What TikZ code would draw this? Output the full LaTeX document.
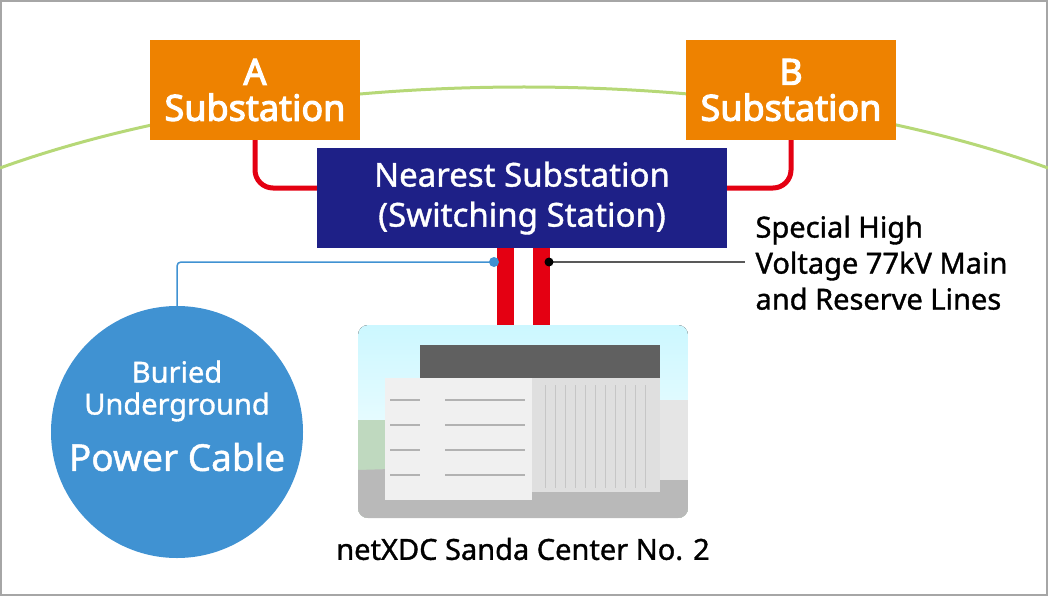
\documentclass[tikz,border=0pt]{standalone}
\usepackage{fontspec}
\setmainfont{Noto Sans}
\newfontfamily\medf[FakeBold=1.2]{Noto Sans}
\newfontfamily\boldf[FakeBold=3]{Noto Sans}
\begin{document}
\begin{tikzpicture}[x=1pt,y=-1pt,
  sub/.style={fill=orangeC,text=white,font=\boldf\fontsize{36}{36}\selectfont,align=center,minimum width=210pt,minimum height=100pt,inner sep=0pt},
  feed/.style={draw=redC,line width=5pt,rounded corners=18pt},
  lbl/.style={font=\medf\fontsize{29}{36}\selectfont,align=left,anchor=north west}]
\definecolor{orangeC}{RGB}{238,130,0}
\definecolor{navyC}{RGB}{30,32,135}
\definecolor{redC}{RGB}{228,0,18}
\definecolor{blueC}{RGB}{64,146,210}
\definecolor{greenC}{RGB}{150,200,60}
\useasboundingbox (0,0) rectangle (1048,596);
\draw[gray!70,line width=2pt] (1,1) rectangle (1047,595);
% green arc
\draw[greenC!70,line width=3pt] (0,168) .. controls (300,60) and (748,60) .. (1048,168);
% feeders
\node[sub] (A) at (255,90) {A\\Substation};
\node[sub] (B) at (791,90) {B\\Substation};
\draw[feed] (A.south) |- (420,188);
\draw[feed] (B.south) |- (620,188);
\node[fill=navyC,text=white,font=\medf\fontsize{33}{40}\selectfont,align=center,minimum width=410pt,minimum height=100pt,inner sep=0pt] (N) at (522,198) {Nearest Substation\\(Switching Station)};
% photo
\begin{scope}
\path[clip,rounded corners=10pt] (358,325) rectangle (688,518);
\fill[top color=blue!15!cyan!20,bottom color=white] (358,325) rectangle (688,518);
\fill[green!25!gray!40] (358,420) rectangle (688,518);
\fill[gray!55] (358,470) -- (688,460) -- (688,518) -- (358,518) -- cycle;
\fill[gray!20] (640,400) rectangle (688,480);
\fill[gray!75!black] (420,345) rectangle (660,378);
\fill[gray!12] (385,378) rectangle (532,500);
\fill[gray!25] (532,378) rectangle (660,492);
\foreach \y in {400,425,450,475}{\draw[gray!60,line width=2pt] (390,\y) -- (420,\y); \draw[gray!60,line width=2pt] (445,\y) -- (525,\y);}
\foreach \x in {545,555,565,575,585,595,605,615,625,635,645} \draw[gray!45] (\x,385) -- (\x,488);
\end{scope}
\coordinate (photoTop1) at (505,325);
\coordinate (photoTop2) at (541,325);
\draw[redC,line width=17pt] (505,248) -- (photoTop1);
\draw[redC,line width=17pt] (541,248) -- (photoTop2);
% circle
\node[circle,fill=blueC,minimum size=252pt,inner sep=0pt] (C) at (177,432) {};
\node[text=white,font=\medf\fontsize{29}{32}\selectfont,align=center] at (177,391) {Buried\\Underground};
\node[text=white,font=\medf\fontsize{37}{40}\selectfont] at (177,457) {Power Cable};
\coordinate (bd) at (494,262);
\draw[blueC,line width=1.5pt,rounded corners=4pt] (bd) -| (C.north);
\fill[blueC] (bd) circle (5pt);
\coordinate (kd) at (549,262);
\coordinate (ke) at (745,262);
\draw[gray!70!black,line width=1.5pt] (kd) -- (ke);
\fill[black] (kd) circle (4.5pt);
\node[lbl] (L) at (752,212) {Special High\\Voltage 77kV Main\\and Reserve Lines};
\node[font=\medf\fontsize{29}{30}\selectfont] (cap) at (523,549) {netXDC Sanda Center No. 2};
\end{tikzpicture}
\end{document}
